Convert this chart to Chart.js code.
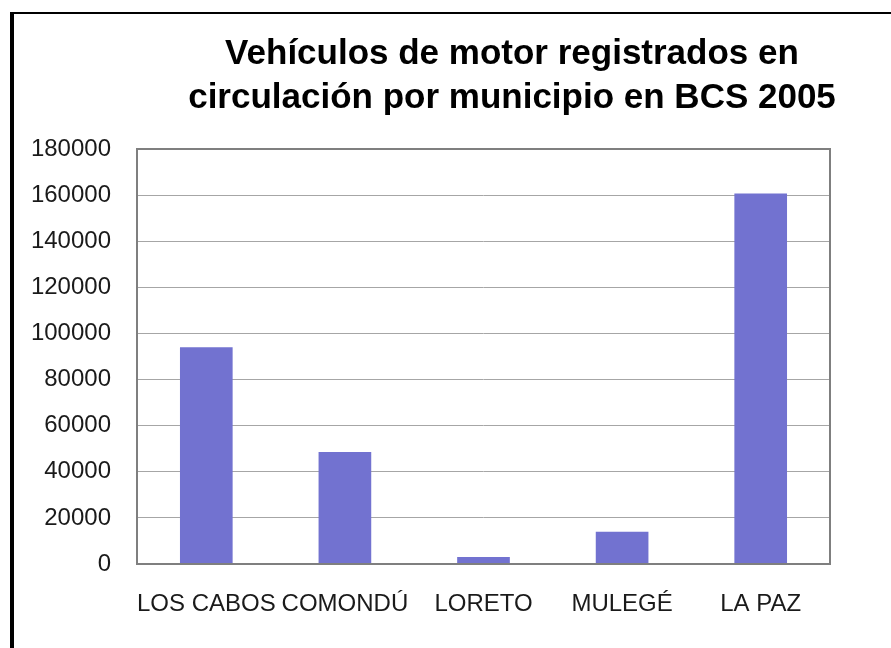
<!DOCTYPE html>
<html>
<head>
<meta charset="utf-8">
<script src="https://cdn.jsdelivr.net/npm/chart.js@4/dist/chart.umd.min.js"></script>
<style>
  html, body { margin: 0; padding: 0; background: #fff; }
  #wrap { width: 891px; height: 648px; }
</style>
</head>
<body>
<div id="wrap"><canvas id="grafica" width="891" height="648"></canvas></div>
<script>
// datos
const municipios = ['LOS CABOS', 'COMONDÚ', 'LORETO', 'MULEGÉ', 'LA PAZ'];
const vehiculos = [94000, 48600, 3000, 14000, 160700];
const tituloLineas = ['Vehículos de motor registrados en', 'circulación por municipio en BCS 2005'];

const colorBarra = 'rgb(114, 114, 208)';

// marco negro de la imagen + título + borde gris del área de gráfica
const marcoPlugin = {
    id: 'marco',
    beforeDraw(chart) {
        const ctx = chart.ctx;
        ctx.save();
        ctx.fillStyle = '#fff';
        ctx.fillRect(0, 0, chart.width, chart.height);
        ctx.fillStyle = '#000';
        ctx.fillRect(10, 12, chart.width - 10, 2);
        ctx.fillRect(10, 12, 4, chart.height - 12);

        ctx.fillStyle = '#000';
        ctx.font = 'bold 35px "Liberation Sans", Arial, sans-serif';
        ctx.textAlign = 'center';
        ctx.textBaseline = 'alphabetic';
        ctx.fillText(tituloLineas[0], 512, 64);
        ctx.fillText(tituloLineas[1], 512, 108);
        ctx.restore();
    },
    afterDatasetsDraw(chart) {
        const { left, top, right, bottom } = chart.chartArea;
        const ctx = chart.ctx;
        ctx.save();
        ctx.strokeStyle = '#7f7f7f';
        ctx.lineWidth = 2;
        ctx.strokeRect(left, top, right - left, bottom - top);
        ctx.restore();
    }
};

new Chart(document.getElementById('grafica').getContext('2d'), {
    type: 'bar',
    data: {
        labels: municipios,
        datasets: [{
            data: vehiculos,
            backgroundColor: colorBarra,
            borderWidth: 0,
            categoryPercentage: 1,
            barPercentage: 0.38
        }]
    },
    options: {
        responsive: false,
        animation: false,
        layout: { padding: { top: 149, right: 61, left: 0, bottom: 0 } },
        plugins: {
            legend: { display: false },
            title: { display: false },
            tooltip: { enabled: false }
        },
        scales: {
            x: {
                grid: { display: false, drawTicks: false },
                border: { display: false },
                ticks: {
                    color: '#1a1a1a',
                    font: { family: '"Liberation Sans", Arial, sans-serif', size: 24 },
                    padding: 26,
                    maxRotation: 0,
                    minRotation: 0,
                    autoSkip: false
                },
                afterFit(scale) { scale.height = 84; }
            },
            y: {
                min: 0,
                max: 180000,
                grid: { color: '#a6a6a6', lineWidth: 1, drawTicks: false },
                border: { display: false },
                ticks: {
                    stepSize: 20000,
                    color: '#1a1a1a',
                    font: { family: '"Liberation Sans", Arial, sans-serif', size: 24 },
                    padding: 26,
                    callback: (v) => String(v)
                },
                afterFit(scale) { scale.width = 137; }
            }
        }
    },
    plugins: [marcoPlugin]
});
</script>
</body>
</html>
